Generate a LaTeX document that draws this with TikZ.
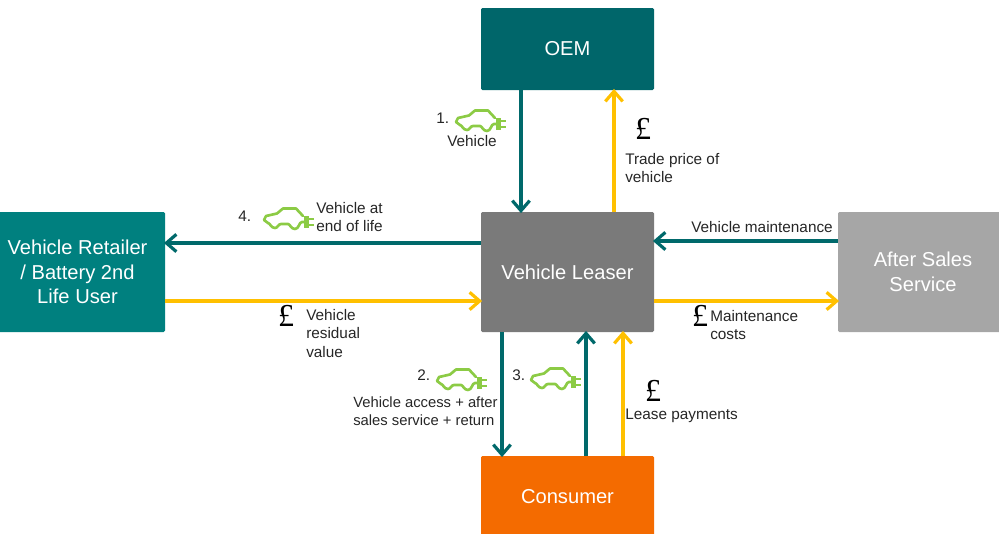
\documentclass[tikz,border=0pt]{standalone}
\usepackage{fontspec}
\setmainfont{Liberation Sans}
\newfontfamily\poundfont{Liberation Serif}
\usetikzlibrary{arrows.meta}
\definecolor{oemteal}{HTML}{00666A}
\definecolor{rettetal}{HTML}{00807F}
\definecolor{leasegrey}{HTML}{7A7A7A}
\definecolor{aftergrey}{HTML}{A6A6A6}
\definecolor{consorange}{HTML}{F46B00}
\definecolor{flowteal}{HTML}{00696B}
\definecolor{flowgold}{HTML}{FFC000}
\definecolor{cargreen}{HTML}{8CCB45}
\definecolor{labelgrey}{HTML}{262626}
\tikzset{
  x=0.75pt,y=-0.75pt,
  boxnode/.style={rectangle,rounded corners=1pt,inner sep=0pt,text=white,align=center,
    font=\fontsize{15.1}{18.4}\selectfont},
  lab/.style={inner sep=0pt,text=labelgrey,align=left,anchor=north west,
    font=\fontsize{11.5}{13.9}\selectfont},
  pound/.style={inner sep=0pt,text=black,font=\poundfont\fontsize{24}{24}\selectfont},
  tealflow/.style={draw=flowteal,line width=2.4pt,shorten >=-1pt,-{Straight Barb[length=7.5pt,width=13pt,line width=2.4pt]}},
  goldflow/.style={draw=flowgold,line width=2.4pt,shorten >=-1pt,-{Straight Barb[length=7.5pt,width=13pt,line width=2.4pt]}},
  pics/evcar/.style={code={
    \draw[cargreen,line width=2pt,line join=round,line cap=round]
      (39,9) -- (32,1.5) -- (19,1.5) -- (13,6.5) -- (2,9) -- (0,13) -- (4,16)
      .. controls (6,16) and (7,21) .. (11,21)
      .. controls (14,21) and (14,17) .. (17,17) -- (24,17)
      .. controls (26,17) and (27,22) .. (31,22)
      .. controls (35,22) and (35,15) .. (38,15) -- (41,15);
    \fill[cargreen] (40,9) rectangle (45,21);
    \draw[cargreen,line width=2pt] (45,12) -- (50,12) (45,18) -- (50,18);
  }}
}
\begin{document}
\begin{tikzpicture}
\useasboundingbox (0,0) rectangle (999,533);
\begin{scope}
\clip (0,0) rectangle (999,533);
\node[boxnode,fill=oemteal,minimum width=129.75pt,minimum height=61.5pt] (oem) at (567.5,49) {OEM};
\node[boxnode,fill=leasegrey,minimum width=129.75pt,minimum height=90pt] (lease) at (567.5,272) {Vehicle Leaser};
\node[boxnode,fill=rettetal,minimum width=131.25pt,minimum height=90pt] (retail) at (77.5,272) {Vehicle Retailer\\/ Battery 2nd\\Life User};
\node[boxnode,fill=aftergrey,minimum width=127.5pt,minimum height=90pt] (after) at (923,272) {After Sales\\Service};
\node[boxnode,fill=consorange,minimum width=129.75pt,minimum height=61.5pt] (cons) at (567.5,497) {Consumer};
\end{scope}
% anchors for the parallel connectors
\coordinate (xa) at (521,0);
\coordinate (xb) at (614,0);
\coordinate (xc) at (502,0);
\coordinate (xd) at (586,0);
\coordinate (xe) at (623,0);
\coordinate (ya) at (0,243);
\coordinate (yb) at (0,301);
\coordinate (yc) at (0,241);
% connectors
\draw[tealflow] (oem.south -| xa) -- (lease.north -| xa);
\draw[goldflow] (lease.north -| xb) -- (oem.south -| xb);
\draw[tealflow] (lease.west |- ya) -- (retail.east |- ya);
\draw[goldflow] (retail.east |- yb) -- (lease.west |- yb);
\draw[tealflow] (after.west |- yc) -- (lease.east |- yc);
\draw[goldflow] (lease.east |- yb) -- (after.west |- yb);
\draw[tealflow] (lease.south -| xc) -- (cons.north -| xc);
\draw[tealflow] (cons.north -| xd) -- (lease.south -| xd);
\draw[goldflow] (cons.north -| xe) -- (lease.south -| xe);
% icons
\pic at (456,109) {evcar};
\pic at (264,207) {evcar};
\pic at (437,368) {evcar};
\pic at (531,367) {evcar};
% labels
\node[lab] (l1) at (436,113) {1.};
\node[lab] (l1b) at (447,135) {Vehicle};
\node[lab] (l2) at (625,153) {Trade price of\\vehicle};
\node[lab] (l4n) at (238,211) {4.};
\node[lab] (l4) at (316,202) {Vehicle at\\end of life};
\node[lab] (l5) at (691,221) {Vehicle maintenance};
\node[lab] (l6) at (306,309) {Vehicle\\residual\\value};
\node[lab] (l7) at (710,310) {Maintenance\\costs};
\node[lab] (l2n) at (417,370) {2.};
\node[lab] (l3n) at (512,370) {3.};
\node[lab,font=\fontsize{11.1}{13.9}\selectfont] (l8) at (353,396) {Vehicle access + after\\sales service + return};
\node[lab] (l9) at (625,409) {Lease payments};
% pound signs
\node[pound] (p1) at (643,129) {£};
\node[pound] (p2) at (286,316) {£};
\node[pound] (p3) at (700,316) {£};
\node[pound] (p4) at (653,391) {£};
\end{tikzpicture}
\end{document}
